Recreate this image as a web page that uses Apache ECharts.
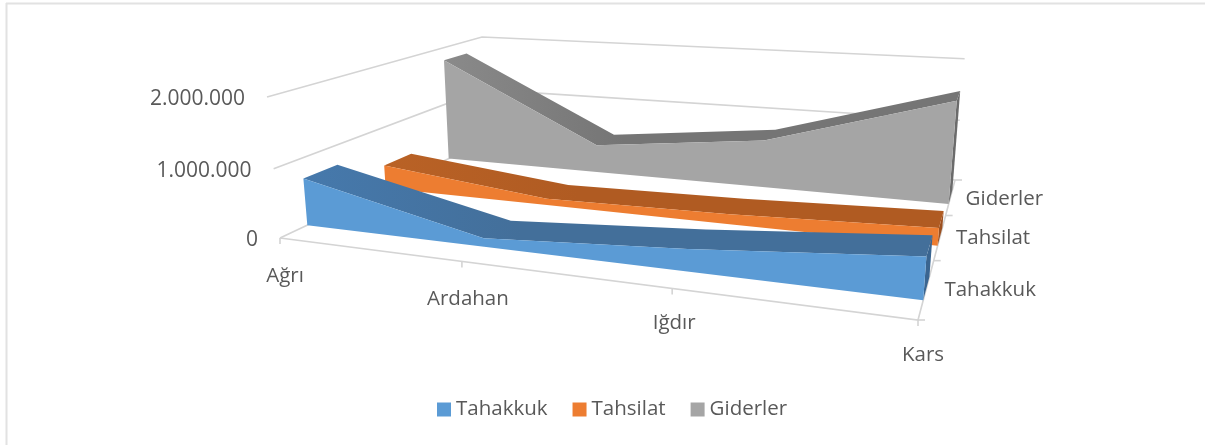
<!DOCTYPE html>
<html><head><meta charset="utf-8">
<style>html,body{margin:0;padding:0;background:#fff}#c{width:1205px;height:445px}</style>
<script src="https://cdn.jsdelivr.net/npm/echarts@6/dist/echarts.min.js"></script>
</head><body><div id="c"></div>
<script>
const categories = ['Ağrı', 'Ardahan', 'Iğdır', 'Kars'];
const tahakkuk = [700000, 120000, 300000, 540000];
const tahsilat = [380000, 100000, 150000, 250000];
const giderler = [1780000, 470000, 770000, 1590000];
const valueTicks = [0, 1000000, 2000000];
const valueTickLabels = ['0', '1.000.000', '2.000.000'];
const seriesNames = ['Tahakkuk', 'Tahsilat', 'Giderler'];

// view settings for the 3D look: floor corners, vertical vanishing point, height strength
const A = [280, 238], B = [918, 320], C = [955, 180], D = [486, 141];
const V = [640, 4150], K = 0.0348;
const bandShare = 0.4;
const FONT = '20.5px "Open Sans"', NUMFONT = '21px "Open Sans"', TEXT = '#595959', GRID = '#d4d4d4';
const catLabelOff = [[5, 38], [6, 38], [2, 35], [5, 35]];
const depthLabelOff = [18, 16, 15];

const sx = A[0]-B[0]+C[0]-D[0], sy = A[1]-B[1]+C[1]-D[1];
const d1x = B[0]-C[0], d1y = B[1]-C[1], d2x = D[0]-C[0], d2y = D[1]-C[1];
const det = d1x*d2y - d2x*d1y;
const gU = (sx*d2y - d2x*sy)/det, gD = (d1x*sy - sx*d1y)/det;
function project(u, d, h) {
  const wB = 1+gU, wD = 1+gD;
  const w = 1 + gU*u + gD*d;
  const nx = A[0] + u*(B[0]*wB-A[0]) + d*(D[0]*wD-A[0]);
  const ny = A[1] + u*(B[1]*wB-A[1]) + d*(D[1]*wD-A[1]);
  const w3 = -K*h;
  return [(nx + w3*V[0])/(w+w3), (ny + w3*V[1])/(w+w3)];
}
function scaled(api, params, i, v) {
  const p = api.coord([i, v]), g = params.coordSys;
  return [(p[0]-g.x)/g.width, (g.y+g.height-p[1])/g.height];
}
function line(pts, width, color) {
  return {type:'polyline', shape:{points:pts}, style:{stroke:color, lineWidth:width, fill:null}};
}
function label(text, x, y, align, font) {
  return {type:'text', style:{text, x, y, font:font||FONT, fill:TEXT, align, verticalAlign:'middle'}};
}
function ribbon(values, idx, front, topL, topR, side) {
  const d0 = (idx + (1-bandShare)/2)/3, d1 = (idx + (1+bandShare)/2)/3;
  return {
    name: seriesNames[idx], type:'custom', coordinateSystem:'cartesian2d', clip:false,
    itemStyle:{color:front},
    data: values.map((v,i)=>[i,v]),
    renderItem(params, api) {
      if (params.dataIndex !== 0) return null;
      const s = values.map((v,i)=>scaled(api, params, i, v));
      const frontTop = s.map(q=>project(q[0], d0, q[1]));
      const frontBot = s.map(q=>project(q[0], d0, 0)).reverse();
      const backTop  = s.map(q=>project(q[0], d1, q[1])).reverse();
      const q = s[s.length-1];
      const grad = new echarts.graphic.LinearGradient(frontTop[0][0], 0, frontTop[3][0], 0,
        [{offset:0,color:topL},{offset:0.35,color:topR}], true);
      return {type:'group', children:[
        {type:'polygon', shape:{points:[project(q[0],d0,0),project(q[0],d1,0),project(q[0],d1,q[1]),project(q[0],d0,q[1])]},
         style:{fill:side}},
        {type:'polygon', shape:{points:frontTop.concat(backTop)}, style:{fill:grad}},
        {type:'polygon', shape:{points:frontTop.concat(frontBot)}, style:{fill:front}}
      ]};
    }
  };
}
const option = {
  animation:false,
  grid:{left:0,right:0,top:0,bottom:0,containLabel:false},
  xAxis:{type:'category',data:categories,boundaryGap:false,show:false},
  yAxis:{type:'value',min:0,max:2000000,show:false},
  legend:{data:seriesNames,left:437,top:399,padding:0,icon:'rect',itemWidth:14,itemHeight:14,itemGap:25,itemTextGap:5,
    selectedMode:false,textStyle:{color:TEXT,fontFamily:'Open Sans',fontSize:20.5}},
  graphic:[
    {type:'line',shape:{x1:6,y1:3.5,x2:1205,y2:3.5},style:{stroke:'#e2e2e2',lineWidth:2},silent:true},
    {type:'line',shape:{x1:6.5,y1:3,x2:6.5,y2:445},style:{stroke:'#e2e2e2',lineWidth:2},silent:true}
  ],
  series:[
    {name:'walls',type:'custom',coordinateSystem:'cartesian2d',clip:false,
     data:valueTicks.map(v=>[0,v]),
     renderItem(params, api){
       const v = valueTicks[params.dataIndex], q = scaled(api, params, 0, v);
       const h = q[1], a = project(0,0,h);
       const ch = [line([a,project(0,1,h),project(1,1,h)],1.6,GRID)];
       ch.push(label(valueTickLabels[params.dataIndex], a[0]-22, a[1]+2, 'right', NUMFONT));
       if (!h) ch.push(line([project(0,0,0),project(1,0,0),project(1,1,0)],1.6,GRID));
       return {type:'group',children:ch};
     }},
    {name:'catAxis',type:'custom',coordinateSystem:'cartesian2d',clip:false,
     data:categories.map((c,i)=>[i,0]),
     renderItem(params, api){
       const i = params.dataIndex, q = scaled(api, params, i, 0), p = project(q[0],0,0);
       const o = catLabelOff[i];
       return {type:'group',children:[
         line([p,[p[0],p[1]+6]],1.6,GRID),
         label(categories[i], p[0]+o[0], p[1]+o[1], 'center')]};
     }},
    {name:'depthAxis',type:'custom',coordinateSystem:'cartesian2d',clip:false,
     data:seriesNames.map((c,i)=>[3,0]).concat([[3,0]]),
     renderItem(params, api){
       const i = params.dataIndex, q = scaled(api, params, 3, 0), p = project(q[0],i/3,0);
       const ch = [line([p,[p[0]+7,p[1]]],1.6,GRID)];
       if (i < 3) { const m = project(q[0],(i+0.5)/3,0);
         ch.push(label(seriesNames[i], m[0]+depthLabelOff[i], m[1]+2, 'left')); }
       return {type:'group',children:ch};
     }},
    ribbon(giderler, 2, '#a5a5a5', '#8a8a8a', '#757575', '#6b6b6b'),
    ribbon(tahsilat, 1, '#ed7d31', '#b96226', '#b05b22', '#9c5020'),
    ribbon(tahakkuk, 0, '#5b9bd5', '#4679ac', '#436f9a', '#3a6590')
  ]
};
echarts.init(document.getElementById('c')).setOption(option);
</script></body></html>
